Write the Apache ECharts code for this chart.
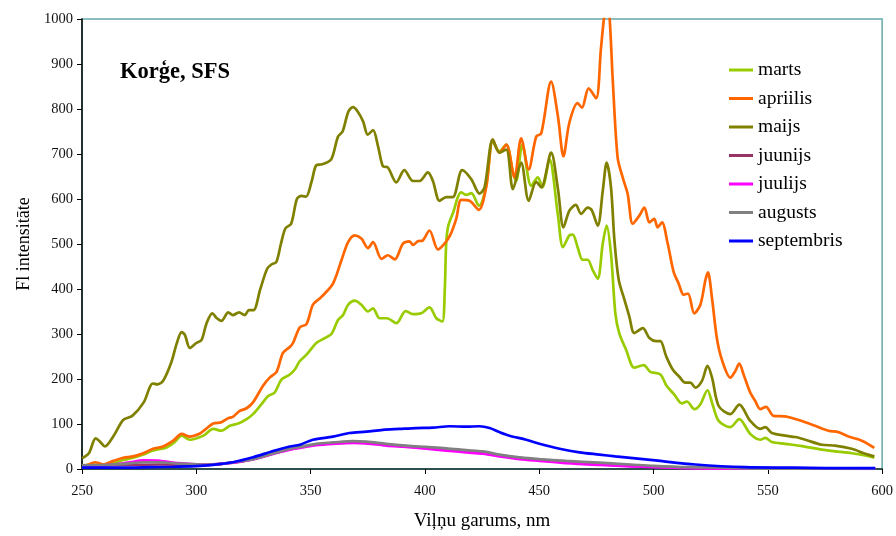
<!DOCTYPE html>
<html>
<head>
<meta charset="utf-8">
<script src="https://cdn.jsdelivr.net/npm/echarts@6/dist/echarts.min.js"></script>
<style>
  html, body { margin: 0; padding: 0; background: #fff; }
  #chart { width: 896px; height: 536px; }
</style>
</head>
<body>
<div id="chart"></div>
<script>
// Fluorescence spectra (Korģe, SFS): wavelength (nm) and intensity per month
const seriesNames = ['marts', 'apriilis', 'maijs', 'juunijs', 'juulijs', 'augusts', 'septembris'];
const seriesColors = ['#99CC00', '#FF6600', '#808000', '#993366', '#FF00FF', '#808080', '#0000FF'];

const xTicks = [250, 300, 350, 400, 450, 500, 550, 600];
const yTicks = [0, 100, 200, 300, 400, 500, 600, 700, 800, 900, 1000];

const martsNm = [250, 255, 259, 263.7, 268, 272.4, 276.8, 281.1, 287, 290.6, 293.6, 297.2, 301.6, 303.7, 307.4, 311, 314.7, 318.3, 322, 324.8, 328.5, 331.4, 334.3, 337.3, 340.9, 343.1, 345.3, 348.2, 352.5, 356.2, 359.1, 362, 364.2, 366.4, 369.3, 372.2, 375.1, 377.3, 380.2, 383.4, 387.5, 391.6, 394.8, 398.4, 402, 405, 407.6, 408.7, 409.3, 410.2, 412.2, 415.9, 418, 420.3, 423.6, 426.8, 429.7, 432.6, 435.6, 438.5, 439.9, 442.6, 446.5, 449.4, 451.4, 454.5, 458.2, 460.4, 463.2, 464.7, 466.8, 469, 471.2, 473.4, 475.6, 477.8, 479.5, 481.4, 483.3, 485, 488, 491.6, 495.7, 498.6, 503, 505.7, 509, 512.4, 514.6, 517.9, 520.5, 523.6, 525.8, 528.5, 533.6, 537.5, 542.3, 546.7, 548.9, 551.8, 557.6, 564.9, 573.6, 579.4, 586.7, 592.6, 596.6];
const martsVal = [8, 10, 9, 13, 20, 25, 32, 41, 48, 60, 74, 65, 71, 76, 89, 85, 96, 101, 111, 122, 144, 162, 170, 199, 210, 221, 240, 254, 280, 291, 300, 331, 342, 365, 374, 365, 350, 357, 335, 335, 324, 351, 344, 346, 359, 335, 328, 400, 500, 540, 568, 615, 609, 613, 585, 629, 728, 706, 721, 659, 640, 721, 629, 648, 626, 688, 563, 493, 519, 521, 493, 465, 465, 442, 423, 501, 541, 478, 346, 302, 265, 225, 231, 216, 210, 185, 166, 146, 150, 133, 144, 175, 144, 107, 93, 111, 78, 65, 69, 60, 56, 51, 43, 39, 35, 30, 25];

const apriilisNm = [250, 252, 255.7, 259.3, 263.7, 268, 272.4, 276.8, 281.1, 285.5, 289.9, 293.6, 297.2, 301.6, 303.7, 307.4, 311, 314, 316, 319, 322, 324.8, 329.2, 332.1, 335.1, 337.9, 340.9, 342.3, 345.3, 348.2, 351, 354, 356.2, 359.8, 363.5, 366.4, 369.3, 372.2, 375.1, 377.3, 381, 383.8, 386.8, 390.4, 393.3, 394.8, 396.9, 399.1, 402, 405.7, 408.6, 411, 413.7, 415.9, 419.5, 423.6, 426.8, 429.7, 432.6, 435.6, 439.2, 442.1, 445.4, 448.7, 450.9, 455.2, 458.2, 460.6, 463.2, 466.8, 468.7, 471.6, 474.9, 477, 478.5, 479.6, 480.7, 482.2, 484.3, 486.5, 488.7, 490.9, 493.8, 496, 498.2, 500.3, 501.8, 503.7, 506.2, 508.8, 511, 513.2, 515.1, 517.8, 520.5, 522.7, 523.8, 525.6, 527.7, 529.9, 533.6, 535.8, 537.5, 539.4, 542.3, 544.5, 546.7, 549.2, 552.5, 557.6, 562, 566.4, 570.7, 576.5, 580.9, 585.3, 591.1, 596.6];
const apriilisVal = [7, 8, 15, 10, 18, 25, 28, 35, 45, 50, 63, 78, 72, 79, 87, 101, 104, 113, 116, 129, 135, 148, 185, 203, 216, 258, 271, 280, 315, 322, 365, 379, 390, 412, 464, 504, 519, 512, 491, 504, 467, 475, 466, 501, 506, 498, 506, 508, 530, 488, 501, 519, 556, 598, 596, 576, 626, 732, 703, 721, 648, 735, 666, 739, 746, 861, 783, 695, 770, 813, 803, 846, 824, 934, 1010, 1040, 1010, 861, 692, 648, 611, 545, 563, 581, 548, 556, 537, 548, 501, 438, 412, 387, 390, 346, 365, 420, 437, 379, 291, 243, 203, 218, 234, 210, 170, 151, 133, 138, 118, 117, 111, 104, 96, 85, 82, 72, 63, 47];

const maijsNm = [250, 253, 256, 258, 260, 264, 268, 272, 277, 281, 283, 285.5, 289, 291.5, 293.6, 295, 297.2, 300, 302.3, 304.5, 307, 309, 311, 314, 316, 318.7, 321.2, 323, 325, 328, 331, 333, 335, 337, 339, 341.5, 344, 346, 348, 350.5, 352.5, 355, 359, 362, 364, 366.5, 368.5, 370.5, 373, 375, 377.3, 379.5, 381.6, 383.8, 387.5, 391, 394.8, 397.7, 401.3, 403.5, 406.4, 409.3, 412.2, 416.3, 420.3, 423.9, 426.1, 429.7, 432.6, 435.6, 438.5, 442.1, 445.4, 448.7, 450.9, 455.2, 458.2, 460.6, 463.2, 466, 468.3, 471.2, 473, 475.6, 477.8, 479.5, 481.4, 482.9, 484.8, 487.3, 489.4, 491.6, 495.3, 498.2, 501.1, 503, 505.5, 508.4, 511.3, 513.9, 516.1, 518.3, 521.2, 523.6, 525.6, 528.5, 533.6, 537.5, 542.3, 546.7, 548.9, 551.8, 557.6, 562, 566.4, 573.6, 579.4, 586.7, 592.6, 596.6];
const maijsVal = [24, 35, 68, 60, 50, 75, 109, 118, 148, 190, 188, 196, 236, 280, 304, 298, 269, 280, 287, 324, 346, 335, 329, 348, 342, 348, 342, 353, 353, 400, 445, 455, 460, 500, 535, 545, 600, 607, 605, 640, 675, 677, 688, 739, 750, 794, 804, 795, 772, 743, 753, 717, 673, 670, 637, 664, 640, 640, 659, 640, 596, 604, 604, 664, 644, 612, 626, 732, 703, 710, 622, 681, 596, 638, 626, 703, 622, 537, 574, 587, 567, 581, 575, 541, 618, 681, 626, 508, 420, 376, 339, 302, 313, 291, 284, 284, 251, 221, 205, 192, 192, 181, 196, 229, 203, 140, 122, 143, 107, 89, 93, 80, 74, 71, 65, 54, 52, 45, 34, 28];

const juunijsNm = [250, 260, 270, 284, 300, 316, 325, 334, 341, 345, 352.5, 360, 368.5, 383, 400, 418, 432.6, 450, 476, 500, 530, 560, 597];
const juunijsVal = [7, 8, 9, 10, 8, 14, 22, 35, 44, 48, 54, 57, 59, 54, 47, 40, 30, 20, 11, 5, 2, 1, 1];

const juulijsNm = [250, 260, 270, 277, 284, 292, 302, 310, 316, 325, 334, 341, 345.3, 352.5, 359.8, 368.5, 374.4, 383.1, 391.8, 400.6, 409.3, 418.1, 425.3, 432.6, 441.4, 450.1, 461.7, 476.3, 490, 500, 515, 530, 550, 597];
const juulijsVal = [6, 8, 14, 19, 18, 13, 10, 11, 14, 22, 34, 43, 47, 53, 56, 58, 57, 52, 49, 45, 41, 37, 34, 28, 22, 18, 13, 9, 6, 4, 2, 1, 1, 0];

const augustsNm = [250, 260, 270, 277, 284, 292, 302, 310, 316, 325, 334, 341, 345.3, 352.5, 359.8, 368.5, 374.4, 383.1, 391.8, 400.6, 409.3, 418.1, 425.3, 432.6, 441.4, 450.1, 461.7, 476.3, 490, 500, 515, 530, 550, 575, 597];
const augustsVal = [8, 9, 12, 15, 15, 12, 10, 11, 15, 22, 35, 45, 49, 56, 59, 62, 61, 56, 52, 49, 46, 42, 39, 32, 26, 22, 18, 14, 10, 7, 4, 3, 1, 1, 1];

const septembrisNm = [250, 260, 270, 280, 290, 301.6, 310, 316, 324.8, 333.6, 340.9, 345.3, 351, 359.8, 367.1, 374.4, 381.6, 388.9, 396.2, 403.5, 410.8, 418.1, 423.9, 428.3, 432.6, 437, 444.3, 450.1, 458.9, 467.6, 476.3, 483.3, 500.8, 518.3, 540, 562, 580, 597];
const septembrisVal = [3, 3, 3, 4, 5, 7, 11, 15, 26, 40, 50, 54, 65, 72, 80, 83, 87, 89, 91, 92, 95, 94, 95, 91, 82, 74, 65, 56, 45, 37, 32, 28, 19, 10, 4, 3, 2, 2];

const allNm = [martsNm, apriilisNm, maijsNm, juunijsNm, juulijsNm, augustsNm, septembrisNm];
const allVal = [martsVal, apriilisVal, maijsVal, juunijsVal, juulijsVal, augustsVal, septembrisVal];

const serif = '"Liberation Serif", "Times New Roman", serif';

const series = seriesNames.map((name, k) => ({
  name: name,
  type: 'line',
  symbol: 'none',
  smooth: 0.3,
  clip: true,
  lineStyle: { color: seriesColors[k], width: 2.7 },
  itemStyle: { color: seriesColors[k] },
  data: allNm[k].map((x, i) => [x, allVal[k][i]])
}));

const chart = echarts.init(document.getElementById('chart'), null, { renderer: 'canvas' });
chart.setOption({
  animation: false,
  backgroundColor: '#ffffff',
  title: {
    text: 'Korģe, SFS',
    left: 115,
    top: 56,
    textStyle: { fontFamily: serif, fontWeight: 'bold', fontSize: 22.5, color: '#000' }
  },
  legend: {
    orient: 'vertical',
    left: 724,
    top: 55,
    icon: 'rect',
    itemWidth: 24,
    itemHeight: 3,
    itemGap: 8.5,
    itemStyle: { borderWidth: 0 },
    textStyle: { fontFamily: serif, fontSize: 19.5, color: '#000', lineHeight: 20 },
    data: seriesNames
  },
  grid: {
    left: 82, right: 13, top: 19, bottom: 64,
    show: true,
    borderColor: '#66AAAA',
    borderWidth: 1.5,
    containLabel: false
  },
  xAxis: {
    type: 'value',
    min: xTicks[0],
    max: xTicks[xTicks.length - 1],
    interval: 50,
    name: 'Viļņu garums, nm',
    nameLocation: 'middle',
    nameGap: 43,
    nameTextStyle: { fontFamily: serif, fontSize: 19, color: '#000' },
    axisLine: { lineStyle: { color: '#2F4F4F', width: 2 } },
    axisTick: { show: true, inside: false, length: 5, lineStyle: { color: '#000', width: 1 } },
    axisLabel: { margin: 15, fontFamily: serif, fontSize: 14.5, color: '#111', formatter: v => String(v) },
    splitLine: { show: false }
  },
  yAxis: {
    type: 'value',
    min: yTicks[0],
    max: yTicks[yTicks.length - 1],
    interval: 100,
    name: 'Fl intensitāte',
    nameLocation: 'middle',
    nameGap: 48,
    nameTextStyle: { fontFamily: serif, fontSize: 18, color: '#000' },
    axisLine: { show: true, lineStyle: { color: '#000', width: 1.5 } },
    axisTick: { show: true, inside: false, length: 5, lineStyle: { color: '#000', width: 1 } },
    axisLabel: { margin: 9, fontFamily: serif, fontSize: 14.5, color: '#111', formatter: v => String(v) },
    splitLine: { show: false }
  },
  series: series
});
</script>
</body>
</html>
